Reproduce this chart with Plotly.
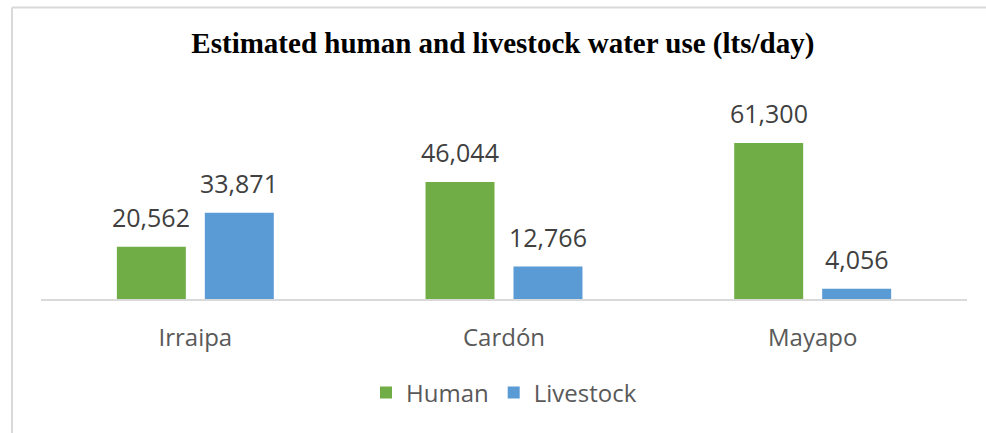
import plotly.graph_objects as go

categories = ["Irraipa", "Cardón", "Mayapo"]
human = [20562, 46044, 61300]
livestock = [33871, 12766, 4056]
series_names = ["Human", "Livestock"]
colors = ["#70AD47", "#5B9BD5"]
title_text = "Estimated human and livestock water use (lts/day)"

FONT = "Open Sans"
fig = go.Figure()
for name, vals, col in zip(series_names, [human, livestock], colors):
    fig.add_trace(go.Bar(
        x=categories, y=vals, name=name, marker=dict(color=col, line=dict(width=0)),
        offsetgroup=name,
    ))

# data labels as annotations placed over each bar
bar_offsets = {"Human": -0.5 * 0.57 / 2, "Livestock": 0.5 * 0.57 / 2}
annotations = []
for name, vals in zip(series_names, [human, livestock]):
    for i, (cat, v) in enumerate(zip(categories, vals)):
        annotations.append(dict(
            x=i + bar_offsets[name], y=v, xref="x", yref="y", text=f"{v:,}",
            showarrow=False, yanchor="bottom", xanchor="center", yshift=11,
            font=dict(family=FONT, size=25, color="#404040"),
        ))

fig.update_layout(
    width=986, height=433,
    margin=dict(l=41, r=19, t=121, b=134),
    paper_bgcolor="white", plot_bgcolor="white",
    barmode="group", bargap=0.43, bargroupgap=0.216,
    title=dict(text="<b>" + title_text + "</b>", x=0.51, xanchor="center", y=1 - 43/433, yanchor="middle",
               font=dict(family="Liberation Serif", size=29, color="black")),
    xaxis=dict(showline=True, linecolor="#D9D9D9", linewidth=1.5, ticks="", showgrid=False,
               tickfont=dict(family=FONT, size=24, color="#595959"), ticklabelstandoff=16,
               range=[-0.5, 2.5]),
    yaxis=dict(range=[0, 70000], visible=False, showgrid=False),
    legend=dict(orientation="h", x=0.5, xanchor="center", y=-94/178, yanchor="middle",
                font=dict(family=FONT, size=24, color="#595959"), itemwidth=30, traceorder="normal"),
    annotations=annotations,
    shapes=[
        dict(type="line", xref="paper", yref="paper", x0=-29/926, x1=945/926, y0=1 + 113.5/178, y1=1 + 113.5/178,
             line=dict(color="#D9D9D9", width=2)),
        dict(type="line", xref="paper", yref="paper", x0=-29/926, x1=-29/926, y0=1 + 113.5/178, y1=-134/178,
             line=dict(color="#D9D9D9", width=2)),
    ],
)
fig.write_html("out.html")
